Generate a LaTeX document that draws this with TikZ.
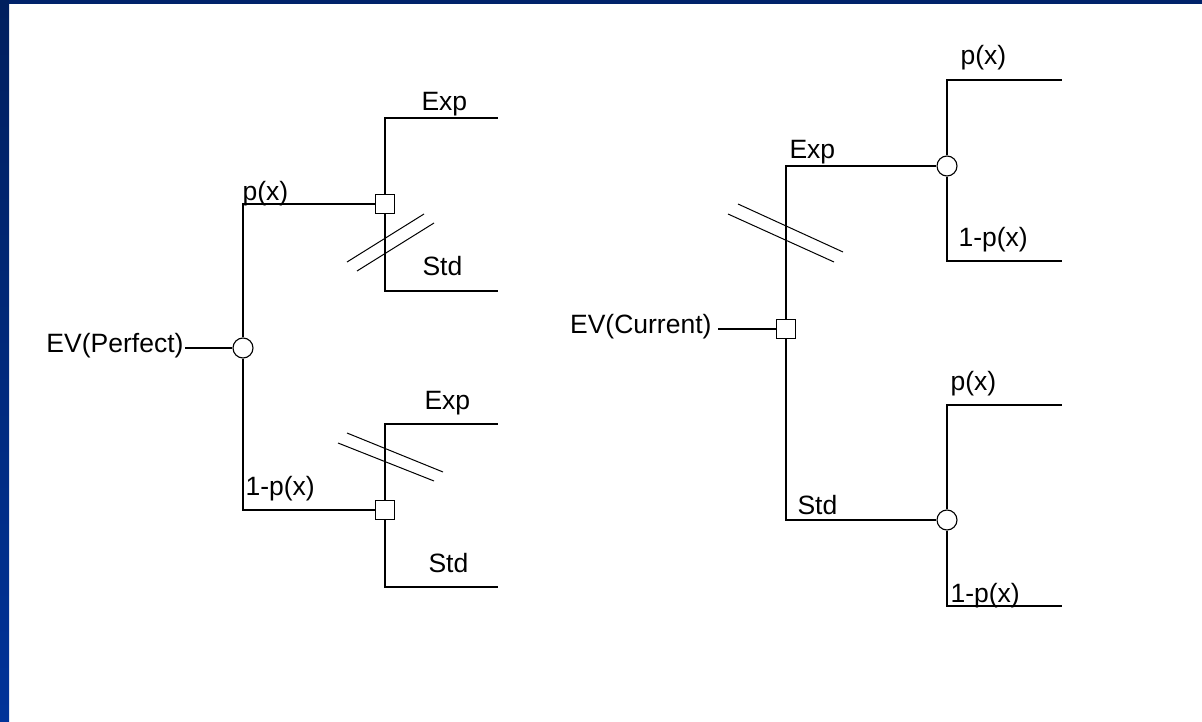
\documentclass[tikz,border=0pt]{standalone}
\usepackage{fontspec}
\setmainfont{Liberation Sans}
\definecolor{navytop}{HTML}{00226A}
\definecolor{navyA}{HTML}{001F5E}
\definecolor{navyB}{HTML}{003399}
\begin{document}
\begin{tikzpicture}[x=1pt,y=-1pt,line width=1.1pt,
  chance/.style={circle,draw,fill=white,minimum size=20pt,inner sep=0pt},
  decision/.style={rectangle,draw,fill=white,minimum size=19pt,inner sep=0pt},
  lbl/.style={anchor=base west,inner sep=0pt,font=\fontsize{26.5}{30}\selectfont},
  lblr/.style={anchor=base east,inner sep=0pt,font=\fontsize{26.5}{30}\selectfont},
  hatch/.style={line width=1pt}]
\useasboundingbox (0,0) rectangle (1202,722);
\fill[white] (0,0) rectangle (1202,722);
\fill[navytop] (0,0) rectangle (1202,4);
\shade[top color=navyA,bottom color=navyB] (0,0) rectangle (9,722);

% ---------- left tree ----------
\node[lblr] (evp) at (184,352) {EV(Perfect)};
\node[chance] (C1) at (243,348) {};
\node[decision] (S1) at (385,204) {};
\node[decision] (S2) at (385,510) {};
\coordinate (l1) at (498,118);
\coordinate (l2) at (498,291);
\coordinate (l3) at (498,424);
\coordinate (l4) at (498,587);

\draw ([xshift=1pt]evp.east |- C1.west) -- (C1.west);
\draw (C1.north) |- (S1.west);
\draw (C1.south) |- (S2.west);
\draw (S1.north) |- (l1);
\draw (S1.south) |- (l2);
\draw (S2.north) |- (l3);
\draw (S2.south) |- (l4);

\draw[hatch] (347,262) -- (424,214);
\draw[hatch] (357,271) -- (434,223);
\draw[hatch] (347,433) -- (443,472);
\draw[hatch] (338,443) -- (434,481);

\node[lbl] (t1) at (242,201) {p(x)};
\node[lbl] (t2) at (421,111) {Exp};
\node[lbl] (t3) at (422,275) {Std};
\node[lbl] (t4) at (245,495) {1-p(x)};
\node[lbl] (t5) at (424,409) {Exp};
\node[lbl] (t6) at (428,572) {Std};

% ---------- right tree ----------
\node[lblr] (evc) at (712,333) {EV(Current)};
\node[decision] (S3) at (786,329) {};
\node[chance] (C2) at (947,166) {};
\node[chance] (C3) at (947,520) {};
\coordinate (r1) at (1062,80);
\coordinate (r2) at (1062,261);
\coordinate (r3) at (1062,405);
\coordinate (r4) at (1062,606);

\draw ([xshift=6pt]evc.east |- S3.west) -- (S3.west);
\draw (S3.north) |- (C2.west);
\draw (S3.south) |- (C3.west);
\draw (C2.north) |- (r1);
\draw (C2.south) |- (r2);
\draw (C3.north) |- (r3);
\draw (C3.south) |- (r4);

\draw[hatch] (738,204) -- (843,252);
\draw[hatch] (728,214) -- (834,262);

\node[lbl] (u1) at (789,159) {Exp};
\node[lbl] (u2) at (960,65) {p(x)};
\node[lbl] (u3) at (958,247) {1-p(x)};
\node[lbl] (u4) at (797,514) {Std};
\node[lbl] (u5) at (950,390) {p(x)};
\node[lbl] (u6) at (950,602) {1-p(x)};
\end{tikzpicture}
\end{document}
